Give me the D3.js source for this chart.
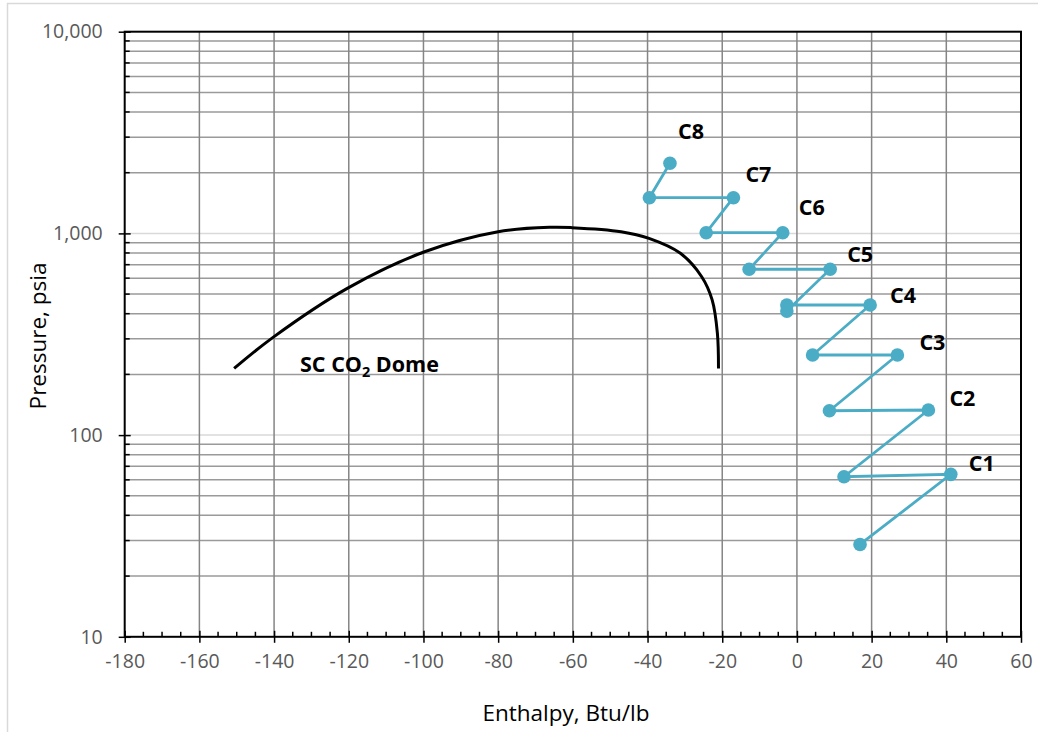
<!DOCTYPE html>
<html>
<head>
<meta charset="utf-8">
<script src="https://cdn.jsdelivr.net/npm/d3@7"></script>
<style>
  body { margin: 0; background: #fff; }
  svg { display: block; }
</style>
</head>
<body>
<div id="chart"></div>
<script>
// compressor train path (enthalpy Btu/lb, pressure psia)
var stageEnthalpy = [16.9, 41.2, 12.6, 35.2, 8.7, 26.9, 4.2, 19.6, -2.7, -2.7, 8.9, -12.8, -3.8, -24.3, -17.0, -39.5, -34.0]
var stagePressure = [28.7, 63.9, 62.2, 133.2, 132.1, 249.5, 249.5, 441.6, 441.6, 412, 664, 664, 1008, 1008, 1503, 1503, 2226]

// labels sit next to the discharge point of each stage
var stageNames = ["C1", "C2", "C3", "C4", "C5", "C6", "C7", "C8"]
var stageEndIndex = [1, 3, 5, 7, 10, 12, 14, 16]
var labelOffsets = [[18, -11], [21, -12], [22, -13], [20, -10], [17, -15], [16, -25], [12, -23], [8, -32]]

// saturation dome
var domeEnthalpy = [-150.7, -140.1, -120.4, -99.7, -80.0, -65.9, -60.3, -47.1, -39.6, -31.2, -25.5, -22.7, -21.3, -21.0]
var domePressure = [214, 307, 534, 811, 1020, 1072, 1068, 1020, 945, 797, 610, 468, 320, 214]

var xTicks = [-180, -160, -140, -120, -100, -80, -60, -40, -20, 0, 20, 40, 60]
var yTicks = [10, 100, 1000, 10000]

function drawChart() {
    var width = 1038
    var height = 732
    var left = 124.7, right = 1021, top = 31.7, bottom = 636.8
    var font = "'Open Sans', sans-serif"

    var svg = d3.select("#chart").append("svg")
        .attr("width", width)
        .attr("height", height)

    // chart area border
    svg.append("rect")
        .attr("x", 7.5).attr("y", 3.5)
        .attr("width", width).attr("height", height)
        .attr("fill", "none")
        .attr("stroke", "#d9d9d9")
        .attr("stroke-width", 1.5)

    var x = d3.scaleLinear().domain([-180, 60]).range([left, right])
    var y = d3.scaleLog().domain([10, 10000]).range([bottom, top])

    var minorY = []
    for (var e = 1; e < 4; e++) {
        for (var m = 2; m <= 9; m++) minorY.push(m * Math.pow(10, e))
    }
    var minorX = d3.range(-180, 61, 5).filter(d => d % 20 !== 0)

    var grid = svg.append("g")
    grid.selectAll("line.hmin")
        .data(minorY)
        .join("line")
        .attr("x1", left).attr("x2", right)
        .attr("y1", d => y(d)).attr("y2", d => y(d))
        .attr("stroke", "#9a9a9a")
        .attr("stroke-width", 1.5)
    grid.selectAll("line.hmaj")
        .data(yTicks.slice(1, 3))
        .join("line")
        .attr("x1", left).attr("x2", right)
        .attr("y1", d => y(d)).attr("y2", d => y(d))
        .attr("stroke", "#d9d9d9")
        .attr("stroke-width", 1.5)
    grid.selectAll("line.vmaj")
        .data(xTicks.slice(1, -1))
        .join("line")
        .attr("x1", d => x(d)).attr("x2", d => x(d))
        .attr("y1", top).attr("y2", bottom)
        .attr("stroke", "#858585")
        .attr("stroke-width", 1.5)

    // plot frame
    svg.append("rect")
        .attr("x", left).attr("y", top)
        .attr("width", right - left).attr("height", bottom - top)
        .attr("fill", "none")
        .attr("stroke", "#000")
        .attr("stroke-width", 2)

    // axes
    var xAxis = svg.append("g")
        .attr("transform", "translate(0," + bottom + ")")
        .call(d3.axisBottom(x).tickValues(xTicks).tickSize(6).tickFormat(d3.format("d")))
    xAxis.select(".domain").remove()
    xAxis.selectAll(".tick line").attr("y1", -6).attr("y2", 6).attr("stroke", "#000").attr("stroke-width", 1.5)
    xAxis.selectAll(".tick text")
        .attr("y", 17)
        .attr("dy", "0.71em")
        .style("font-family", font)
        .style("font-size", "19.5px")
        .attr("fill", "#595959")
        .text(d => d < 0 ? "-" + Math.abs(d) : d)

    svg.append("g").selectAll("line")
        .data(minorX)
        .join("line")
        .attr("x1", d => x(d)).attr("x2", d => x(d))
        .attr("y1", bottom - 5).attr("y2", bottom)
        .attr("stroke", "#000").attr("stroke-width", 1.5)

    var yAxis = svg.append("g")
        .attr("transform", "translate(" + left + ",0)")
        .call(d3.axisLeft(y).tickValues(yTicks).tickSize(6).tickFormat(d3.format(",")))
    yAxis.select(".domain").remove()
    yAxis.selectAll(".tick line").attr("x1", -6).attr("x2", 6).attr("stroke", "#000").attr("stroke-width", 1.5)
    yAxis.selectAll(".tick text")
        .attr("x", -22)
        .style("font-family", font)
        .style("font-size", "19.5px")
        .attr("fill", "#595959")

    svg.append("g").selectAll("line")
        .data(minorY)
        .join("line")
        .attr("x1", left).attr("x2", left + 5)
        .attr("y1", d => y(d)).attr("y2", d => y(d))
        .attr("stroke", "#000").attr("stroke-width", 1.5)

    // axis titles
    svg.append("text")
        .attr("x", 566)
        .attr("y", 721)
        .attr("text-anchor", "middle")
        .style("font-family", font)
        .style("font-size", "22.5px")
        .attr("fill", "#000")
        .text("Enthalpy, Btu/lb")

    svg.append("text")
        .attr("transform", "translate(46," + 336 + ") rotate(-90)")
        .attr("text-anchor", "middle")
        .style("font-family", font)
        .style("font-size", "22.5px")
        .attr("fill", "#000")
        .text("Pressure, psia")

    // dome
    var dome = domeEnthalpy.map((h, i) => [h, domePressure[i]])
    svg.append("path")
        .datum(dome)
        .attr("fill", "none")
        .attr("stroke", "#000")
        .attr("stroke-width", 3)
        .attr("d", d3.line().x(d => x(d[0])).y(d => y(d[1])).curve(d3.curveCatmullRom.alpha(0.5)))

    var domeLabel = svg.append("text")
        .attr("x", 300)
        .attr("y", y(205))
        .style("font-family", font)
        .style("font-size", "21.5px")
        .style("font-weight", "bold")
        .attr("fill", "#000")
    domeLabel.append("tspan").text("SC CO")
    domeLabel.append("tspan").attr("dy", 5).style("font-size", "14.5px").text("2")
    domeLabel.append("tspan").attr("dy", -5).text(" Dome")

    // compressor path
    var pts = stageEnthalpy.map((h, i) => [h, stagePressure[i]])
    svg.append("path")
        .datum(pts)
        .attr("fill", "none")
        .attr("stroke", "#4bacc6")
        .attr("stroke-width", 2.8)
        .attr("d", d3.line().x(d => x(d[0])).y(d => y(d[1])))

    svg.append("g").selectAll("circle")
        .data(pts)
        .join("circle")
        .attr("cx", d => x(d[0]))
        .attr("cy", d => y(d[1]))
        .attr("r", 6.8)
        .attr("fill", "#4bacc6")

    svg.append("g").selectAll("text")
        .data(stageNames)
        .join("text")
        .attr("x", (d, i) => x(pts[stageEndIndex[i]][0]) + labelOffsets[i][0])
        .attr("y", (d, i) => y(pts[stageEndIndex[i]][1]) + labelOffsets[i][1])
        .attr("dy", "0.36em")
        .style("font-family", font)
        .style("font-size", "21.5px")
        .style("font-weight", "bold")
        .attr("fill", "#000")
        .text(d => d)
}
drawChart()
</script>
</body>
</html>
